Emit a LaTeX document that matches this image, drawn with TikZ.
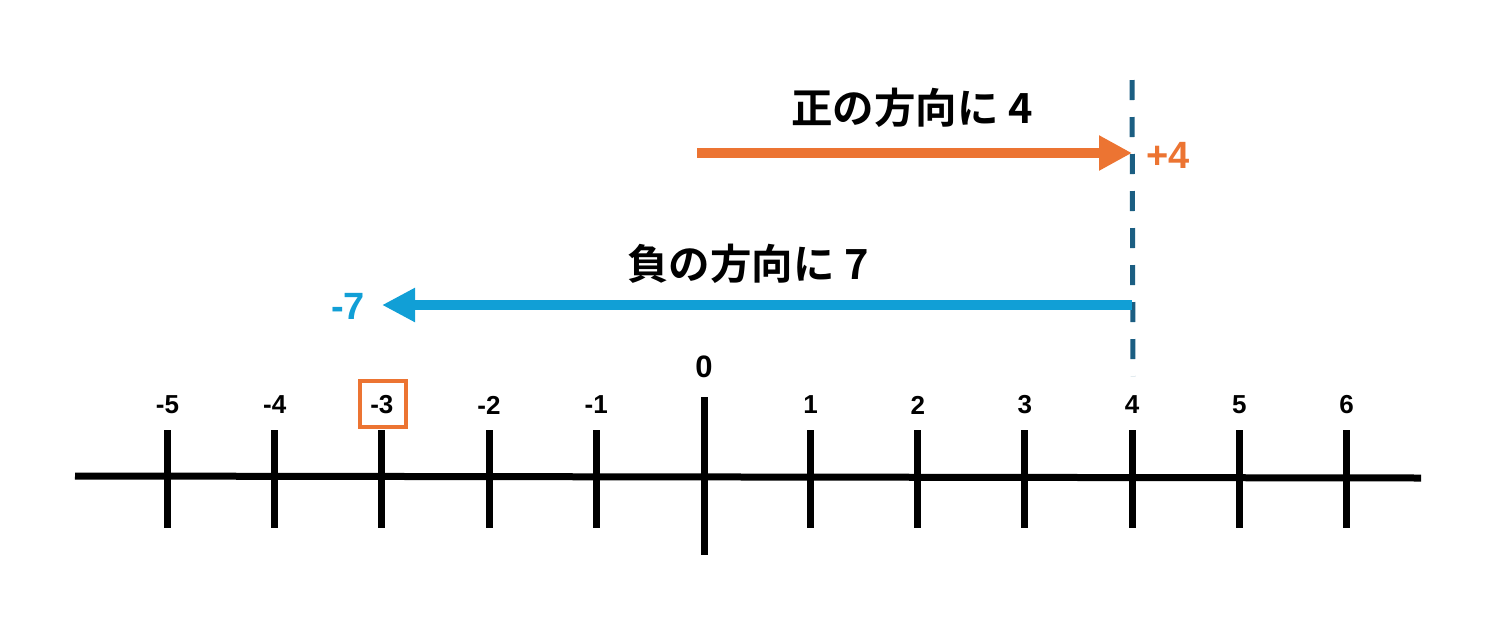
\documentclass[tikz,border=0pt]{standalone}
\usepackage{fontspec}
\setmainfont{Liberation Sans}
\newfontfamily\cjk{Noto Sans CJK JP}[BoldFont={* Bold}]
\usetikzlibrary{arrows.meta}
\definecolor{orangeA}{HTML}{EC7432}
\definecolor{blueA}{HTML}{119FD6}
\definecolor{dashA}{HTML}{1B5E82}
\tikzset{
  axisline/.style={line width=7pt, black},
  tickline/.style={line width=7pt, black},
  ticklabel/.style={font=\fontsize{26}{26}\selectfont\bfseries, inner sep=0pt},
  titletext/.style={font=\cjk\bfseries\fontsize{41.5}{41.5}\selectfont, inner sep=0pt},
  endlabel/.style={font=\fontsize{38}{38}\selectfont\bfseries, inner sep=0pt},
}
\begin{document}
\begin{tikzpicture}[x=1pt,y=-1pt]
\useasboundingbox (0,0) rectangle (1502,633);
% axis
\coordinate (L) at (75,476);
\coordinate (R) at (1421,478);
\draw[axisline] (L) -- (R);
% ticks
\foreach \n in {-5,-4,-3,-2,-1,1,2,3,4,5,6}{
  \pgfmathsetmacro{\xx}{703.4+107.18*\n}
  \coordinate (t\n a) at (\xx,430);
  \coordinate (t\n b) at (\xx,528);
  \draw[tickline] (t\n a) -- (t\n b);
  \node[ticklabel] (lab\n) at (\xx,405) {\n};
}
\coordinate (z a) at (704,397);
\coordinate (z b) at (704,555);
\draw[tickline] (z a) -- (z b);
\node[font=\fontsize{31}{31}\selectfont\bfseries, inner sep=0pt] (lab0) at (704,367) {0};
% box around -3
\node[draw=orangeA, line width=4pt, minimum width=46pt, minimum height=46pt, inner sep=0pt] (box) at (383,404) {};
% dashed line
\coordinate (d a) at (1132,80);
\coordinate (d b) at (1133,376);
\draw[dashA, line width=5pt, dash pattern=on 20pt off 17pt] (d a) -- (d b);
% orange arrow
\coordinate (o s) at (697,153);
\coordinate (o e) at (1132,153);
\draw[orangeA, line width=10pt, -{Triangle[length=33pt,width=33pt]}] (o s) -- (o e);
\node[endlabel, text=orangeA, anchor=west] (plus4) at (1146,155) {+4};
\node[titletext] (t1) at (912,108) {正の方向に 4};
% blue arrow
\coordinate (b s) at (1132,305);
\coordinate (b e) at (382,305);
\draw[blueA, line width=10pt, -{Triangle[length=33pt,width=32pt]}] (b s) -- (b e);
\node[endlabel, text=blueA, anchor=east] (minus7) at (365,306) {-7};
\node[titletext] (t2) at (748,264) {負の方向に 7};
\end{tikzpicture}
\end{document}
